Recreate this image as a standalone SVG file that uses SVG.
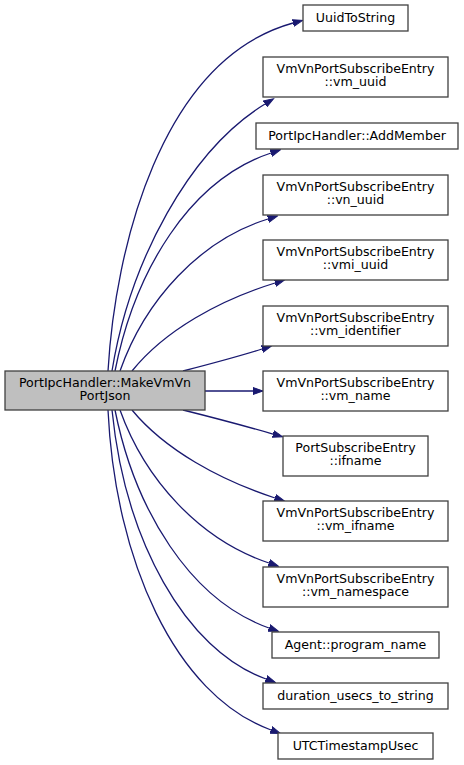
<svg xmlns="http://www.w3.org/2000/svg" width="464" height="765" viewBox="0 0 464 765">
<defs>
<style>
.node rect{fill:#ffffff;stroke:#404040;stroke-width:1.3}
#main rect{fill:#bfbfbf}
text{font-family:"DejaVu Sans","Liberation Sans",sans-serif;font-size:12.6px;fill:#000;text-anchor:middle}
.edges path{fill:none;stroke:#191970;stroke-width:1.3;marker-end:url(#arr)}
</style>
<marker id="arr" markerUnits="userSpaceOnUse" markerWidth="11" markerHeight="8" refX="0" refY="4" orient="auto" viewBox="0 0 11 8">
<path d="M0,0.5 L10,4 L0,7.5 z" fill="#191970" stroke="#191970" stroke-width="1"/>
</marker>
</defs>
<rect width="464" height="765" fill="#ffffff"/>
<g class="edges" id="edges">
<path d="M108,371 C115,250 160,60 293,23"/>
<path d="M112,371 C130,260 190,150 265,104"/>
<path d="M115,371 C135,270 190,180 271,153"/>
<path d="M120,371 C145,300 200,240 268,219"/>
<path d="M132,371 C165,330 220,300 275,283"/>
<path d="M183,371 C210,364 237,357 262,349"/>
<path d="M205,391 L253,391"/>
<path d="M183,410 C215,418 245,426 273,434"/>
<path d="M132,410 C165,450 220,480 275,498"/>
<path d="M120,410 C145,480 200,540 269,563"/>
<path d="M115,410 C135,510 190,600 269,628"/>
<path d="M112,410 C125,540 185,650 266,679"/>
<path d="M108,410 C115,560 175,695 271,730"/>
</g>
<g class="node" id="main"><rect x="5" y="371" width="200" height="39"/><text x="105" y="387">PortIpcHandler::MakeVmVn</text><text x="105" y="400">PortJson</text></g>
<g class="node" id="n1"><rect x="303" y="5" width="105" height="26"/><text x="355.5" y="21.5">UuidToString</text></g>
<g class="node" id="n2"><rect x="263" y="57" width="185" height="40"/><text x="355.5" y="73">VmVnPortSubscribeEntry</text><text x="355.5" y="86">::vm_uuid</text></g>
<g class="node" id="n3"><rect x="256" y="123" width="202" height="26"/><text x="357" y="139.5">PortIpcHandler::AddMember</text></g>
<g class="node" id="n4"><rect x="263" y="175" width="185" height="40"/><text x="355.5" y="191">VmVnPortSubscribeEntry</text><text x="355.5" y="204">::vn_uuid</text></g>
<g class="node" id="n5"><rect x="263" y="240" width="185" height="40"/><text x="355.5" y="256">VmVnPortSubscribeEntry</text><text x="355.5" y="269">::vmi_uuid</text></g>
<g class="node" id="n6"><rect x="263" y="306" width="185" height="40"/><text x="355.5" y="322">VmVnPortSubscribeEntry</text><text x="355.5" y="335">::vm_identifier</text></g>
<g class="node" id="n7"><rect x="263" y="371" width="185" height="40"/><text x="355.5" y="387">VmVnPortSubscribeEntry</text><text x="355.5" y="400">::vm_name</text></g>
<g class="node" id="n8"><rect x="283" y="436" width="145" height="40"/><text x="355.5" y="452">PortSubscribeEntry</text><text x="355.5" y="465">::ifname</text></g>
<g class="node" id="n9"><rect x="263" y="501" width="185" height="40"/><text x="355.5" y="517">VmVnPortSubscribeEntry</text><text x="355.5" y="530">::vm_ifname</text></g>
<g class="node" id="n10"><rect x="263" y="567" width="185" height="40"/><text x="355.5" y="583">VmVnPortSubscribeEntry</text><text x="355.5" y="596">::vm_namespace</text></g>
<g class="node" id="n11"><rect x="272" y="632" width="167" height="26"/><text x="355.5" y="648.5">Agent::program_name</text></g>
<g class="node" id="n12"><rect x="263" y="683" width="185" height="26"/><text x="355.5" y="699.5">duration_usecs_to_string</text></g>
<g class="node" id="n13"><rect x="278" y="733" width="155" height="26"/><text x="355.5" y="749.5">UTCTimestampUsec</text></g>
</svg>
